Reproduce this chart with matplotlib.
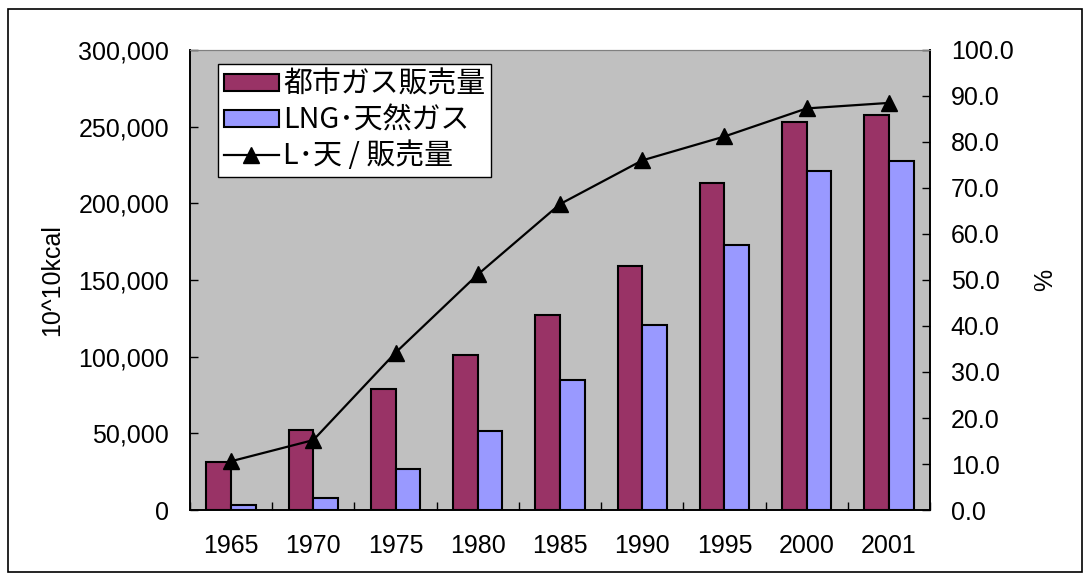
import numpy as np
import matplotlib.pyplot as plt
from matplotlib.patches import Rectangle

plt.rcParams['font.family'] = ['Liberation Sans', 'Noto Sans CJK JP', 'DejaVu Sans']

# データ
years = ['1965', '1970', '1975', '1980', '1985', '1990', '1995', '2000', '2001']
city_gas = [31000, 52000, 79000, 101000, 127000, 159000, 213000, 253000, 257500]
lng_gas = [3000, 8000, 27000, 51500, 85000, 120500, 173000, 221300, 227800]
ratio = [10.6, 15.2, 34.2, 51.2, 66.5, 76.0, 81.2, 87.3, 88.5]
left_ticks = [0, 50000, 100000, 150000, 200000, 250000, 300000]
right_ticks = [0, 10, 20, 30, 40, 50, 60, 70, 80, 90, 100]

fig = plt.figure(figsize=(10.9, 5.81), dpi=100)
ax = fig.add_axes([190/1090, 1-510/581, 740/1090, 460/581])
ax.set_facecolor('#C0C0C0')

x = np.arange(len(years))
w = 0.30
b1 = ax.bar(x - w/2, city_gas, w, color='#993366', edgecolor='black', linewidth=1.5, zorder=2)
b2 = ax.bar(x + w/2, lng_gas, w, color='#9999FF', edgecolor='black', linewidth=1.5, zorder=2)
ax.set_xlim(-0.5, len(years) - 0.5)
ax.set_ylim(0, 300000)
ax.set_yticks(left_ticks)
ax.set_yticklabels([f'{v:,}' for v in left_ticks])
ax.set_xticks(x)
ax.set_xticklabels(years)
ax.set_xticks(np.arange(-0.5, len(years)), minor=True)
ax.tick_params(axis='x', which='major', length=0, pad=17, labelsize=18)
ax.tick_params(axis='x', which='minor', direction='in', length=6, width=1)
ax.tick_params(axis='y', direction='in', length=6, width=1, labelsize=18, pad=15)
ax.set_ylabel('10^10kcal', fontsize=18, labelpad=10)

ax2 = ax.twinx()
ln, = ax2.plot(x, ratio, color='black', linewidth=1.6, marker='^', markersize=12, zorder=3)
ax2.set_ylim(0, 100)
ax2.set_yticks(right_ticks)
ax2.set_yticklabels([f'{v:.1f}' for v in right_ticks])
ax2.tick_params(axis='y', direction='in', length=6, width=1, labelsize=18, pad=15)
ax2.set_ylabel('%', fontsize=18, labelpad=14)

for a in (ax, ax2):
    a.spines['top'].set_color('#808080')
    for s in ('left', 'right', 'bottom'):
        a.spines[s].set_color('black')
        a.spines[s].set_linewidth(1.2)

leg = ax2.legend([b1, b2, ln], ['都市ガス販売量', 'LNG･天然ガス', 'L･天 / 販売量'],
                 loc='upper left', bbox_to_anchor=(28/740, 1-14/460),
                 frameon=True, fancybox=False, edgecolor='black', framealpha=1,
                 borderpad=0.2, labelspacing=0.2, handlelength=1.9, handleheight=0.5,
                 handletextpad=0.15, borderaxespad=0,
                 prop={'family': ['Noto Sans CJK JP', 'DejaVu Sans'], 'size': 20.8})
leg.get_frame().set_linewidth(1)

fig.patches.append(Rectangle((8/1090, 1-572/581), 1074/1090, 563/581, transform=fig.transFigure,
                             fill=False, edgecolor='black', linewidth=1.2))

fig.savefig('out.png', dpi=100)
